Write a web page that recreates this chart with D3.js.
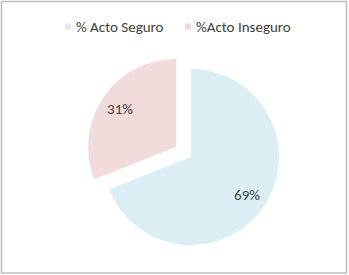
<!DOCTYPE html>
<html>
<head>
<meta charset="UTF-8">
<style>
body { margin: 0; background: #fff; }
text { font-family: Carlito, Lato, "Open Sans", sans-serif; }
</style>
<script src="https://d3js.org/d3.v7.min.js"></script>
</head>
<body>
<svg id="chart" width="349" height="275"></svg>
<script>
// data
var categories = ["% Acto Seguro", "%Acto Inseguro"];
var values = [69, 31];
var labels = ["69%", "31%"];
var colors = ["#DAEEF3", "#F2DCDB"];

var svg = d3.select("#chart");

// frame
svg.append("rect")
    .attr("x", 1.5).attr("y", 1.5)
    .attr("width", 345).attr("height", 271.5)
    .attr("fill", "#fff")
    .attr("stroke", "#BFBFBF")
    .attr("stroke-width", 1.5);

var cx = 191, cy = 157, r = 88, explode = 18;

var pie = d3.pie().sort(null).value(function(d) { return d; });
var arcs = pie(values);
var arc = d3.arc().innerRadius(0).outerRadius(r);

var g = svg.append("g").attr("transform", "translate(" + cx + "," + cy + ")");

var slices = g.selectAll("g.slice").data(arcs).enter().append("g")
    .attr("class", "slice")
    .attr("transform", function(d, i) {
        if (i !== 1) return null;
        var a = (d.startAngle + d.endAngle) / 2;
        return "translate(" + (Math.sin(a) * explode) + "," + (-Math.cos(a) * explode) + ")";
    });

slices.append("path")
    .attr("d", arc)
    .attr("fill", function(d, i) { return colors[i]; });

var labelArc = d3.arc().innerRadius(r * 0.77).outerRadius(r * 0.77);
slices.append("text")
    .attr("transform", function(d) { return "translate(" + labelArc.centroid(d) + ")"; })
    .attr("text-anchor", "middle")
    .attr("dy", "0.35em")
    .attr("font-size", 15)
    .attr("fill", "#404040")
    .text(function(d, i) { return labels[i]; });

// legend
var legendX = [65, 185];
var legend = svg.selectAll("g.legend").data(categories).enter().append("g")
    .attr("class", "legend")
    .attr("transform", function(d, i) { return "translate(" + legendX[i] + ",22)"; });
legend.append("rect")
    .attr("width", 6).attr("height", 6).attr("y", 1.5)
    .attr("fill", function(d, i) { return colors[i]; });
legend.append("text")
    .attr("x", 11).attr("y", 9.5)
    .attr("font-size", 15)
    .attr("fill", "#404040")
    .text(function(d) { return d; });
</script>
</body>
</html>
